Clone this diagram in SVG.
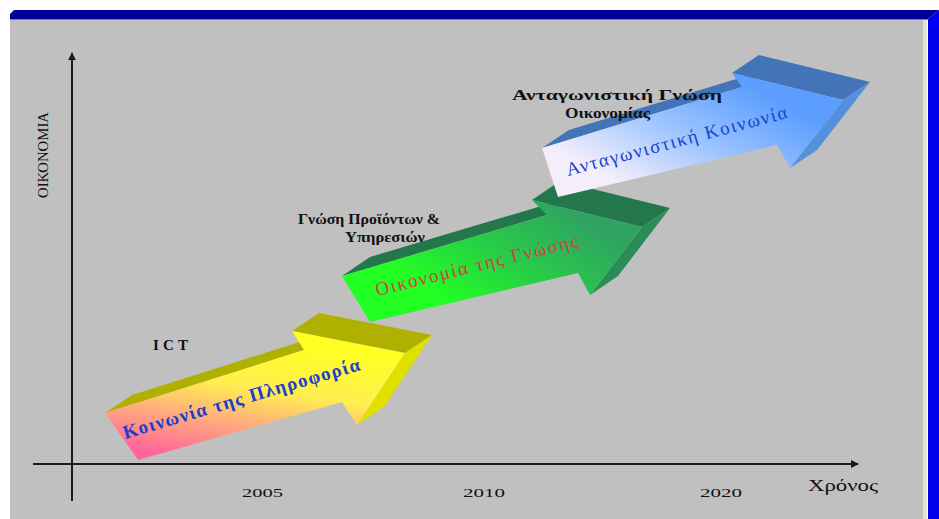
<svg xmlns="http://www.w3.org/2000/svg" width="939" height="519" viewBox="0 0 939 519">
<defs>
<style>
.lbl{font-family:"Liberation Serif","DejaVu Serif",serif;fill:#111;font-weight:bold;font-size:15px}
.plain{font-family:"Liberation Serif","DejaVu Serif",serif;fill:#111;font-weight:normal}
.yr{font-family:"Liberation Serif","DejaVu Serif",serif;fill:#111;font-size:13px}
.atxt{font-family:"Liberation Serif","DejaVu Serif",serif;font-size:19px}
.axis{stroke:#1a1a1a;stroke-width:2;fill:none}
</style>
<marker id="ah" viewBox="0 0 10 10" refX="9" refY="5" markerWidth="4" markerHeight="4" orient="auto" markerUnits="strokeWidth">
<path d="M0,0 L10,5 L0,10 z" fill="#1a1a1a"/>
</marker>
<linearGradient id="gY" gradientUnits="userSpaceOnUse" x1="255" y1="335" x2="235" y2="465">
<stop offset="0" stop-color="#ffff22"/>
<stop offset="0.4" stop-color="#ffee50"/>
<stop offset="0.7" stop-color="#ffa880"/>
<stop offset="1" stop-color="#ff6699"/>
</linearGradient>
<linearGradient id="gG" gradientUnits="userSpaceOnUse" x1="560" y1="205" x2="480" y2="325">
<stop offset="0" stop-color="#2fa462"/>
<stop offset="0.5" stop-color="#28cc48"/>
<stop offset="1" stop-color="#22ff22"/>
</linearGradient>
<linearGradient id="gB" gradientUnits="userSpaceOnUse" x1="730" y1="75" x2="660" y2="205">
<stop offset="0" stop-color="#5c9eff"/>
<stop offset="0.5" stop-color="#9cc4ff"/>
<stop offset="1" stop-color="#f4eefa"/>
</linearGradient>
</defs>

<rect x="0" y="0" width="939" height="519" fill="#ffffff"/>
<g id="frame">
<rect x="10" y="19" width="914" height="500" fill="#c0c0c0"/>
<rect x="923" y="19" width="4" height="500" fill="#e4e0d6"/>
<polygon points="10,19 10,14 14,10 939,10 928,19" fill="#000099"/>
<line x1="10" y1="19.5" x2="928" y2="19.5" stroke="#7a7ab0" stroke-width="1"/>
<polygon points="928,19 939,10 939,519 928,519" fill="#0000ee"/>
</g>

<g id="connectors">
<line class="axis" x1="72" y1="501" x2="72" y2="53" marker-end="url(#ah)"/>
<line class="axis" x1="33" y1="464" x2="858" y2="464" marker-end="url(#ah)"/>
</g>

<g id="arrow-yellow">
<polygon points="105,413 132,395 331,332 304,350" fill="#b0b000"/>
<polygon points="292,331 319,313 432,335 405,353" fill="#b0b000"/>
<polygon points="405,353 432,335 384,407 357,425" fill="#e0e000"/>
<polygon points="105,413 304,350 292,331 405,353 357,425 342,402 138,460" fill="url(#gY)"/>
<text class="atxt" fill="#1a3fcc" font-weight="bold" transform="translate(125,439) rotate(-16.3)" textLength="246" lengthAdjust="spacing">Κοινωνία της Πληροφορία</text>
</g>

<g id="arrow-green">
<polygon points="342,276 370,257 575,196 547,215" fill="#23774a"/>
<polygon points="532,200 560,181 670,208 642,227" fill="#23774a"/>
<polygon points="642,227 670,208 618,276 590,295" fill="#2a8c56"/>
<polygon points="342,276 547,215 532,200 642,227 590,295 578,273 370,322" fill="url(#gG)"/>
<text class="atxt" fill="#cc4444" transform="translate(377,296) rotate(-13.8)" textLength="208" lengthAdjust="spacing">Οικονομία της Γνώσης</text>
</g>

<g id="arrow-blue">
<polygon points="542,148 569,130 769,69 742,87" fill="#4474b8"/>
<polygon points="732,73 759,55 870,82 843,100" fill="#4474b8"/>
<polygon points="843,100 870,82 817,150 790,168" fill="#5590dd"/>
<polygon points="542,148 742,87 732,73 843,100 790,168 777,145 558,197" fill="url(#gB)"/>
<text class="atxt" fill="#1a3fcc" transform="translate(568,176) rotate(-14.8)" textLength="228" lengthAdjust="spacing">Ανταγωνιστική Κοινωνία</text>
</g>

<g id="labels">
<text class="lbl" x="153" y="350" font-size="13" textLength="35" lengthAdjust="spacing">ICT</text>
<text class="lbl" x="298" y="224" textLength="142" lengthAdjust="spacingAndGlyphs">Γνώση Προϊόντων &amp;</text>
<text class="lbl" x="345" y="242" textLength="80" lengthAdjust="spacingAndGlyphs">Υπηρεσιών</text>
<text class="lbl" x="512" y="100" textLength="210" lengthAdjust="spacingAndGlyphs">Ανταγωνιστική Γνώση</text>
<text class="lbl" x="565" y="118" textLength="85" lengthAdjust="spacingAndGlyphs">Οικονομίας</text>
<text class="plain" font-size="15" transform="translate(48,198) rotate(-90)" textLength="86" lengthAdjust="spacingAndGlyphs">ΟΙΚΟΝΟΜΙΑ</text>
</g>

<g id="axis-labels">
<text class="yr" x="242" y="497" textLength="41" lengthAdjust="spacingAndGlyphs">2005</text>
<text class="yr" x="463" y="497" textLength="42" lengthAdjust="spacingAndGlyphs">2010</text>
<text class="yr" x="700" y="497" textLength="42" lengthAdjust="spacingAndGlyphs">2020</text>
<text class="plain" x="808" y="491" font-size="16" textLength="70" lengthAdjust="spacingAndGlyphs">Χρόνος</text>
</g>
</svg>
